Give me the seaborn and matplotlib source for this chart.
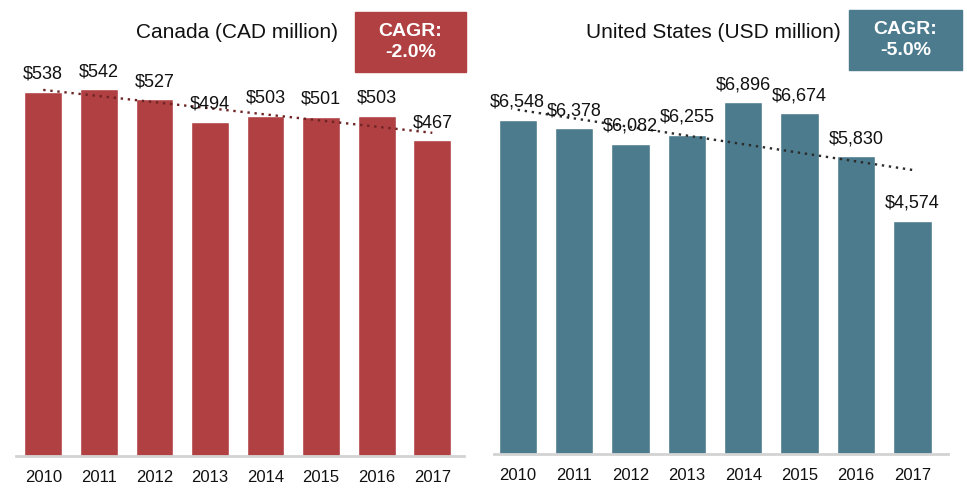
import numpy as np
import pandas as pd
import seaborn as sns
import matplotlib.pyplot as plt
from matplotlib.patches import Rectangle

# values
years = ["2010", "2011", "2012", "2013", "2014", "2015", "2016", "2017"]
canada = [538, 542, 527, 494, 503, 501, 503, 467]
us = [6548, 6378, 6082, 6255, 6896, 6674, 5830, 4574]
canada_cagr = "CAGR:\n-2.0%"
us_cagr = "CAGR:\n-5.0%"

RED = "#B04042"
TEAL = "#4B7B8D"

sns.set_style("white")
plt.rcParams["font.family"] = ["Liberation Sans", "DejaVu Sans"]

fig = plt.figure(figsize=(9.67, 5.01), dpi=100)
W, H = 967, 501


def px_axes(x0, x1, ybase, ytop):
    return fig.add_axes([x0 / W, 1 - ybase / H, (x1 - x0) / W, (ybase - ytop) / H])


def panel(ax, vals, color, trend_color, fmt, ymax, xlim):
    df = pd.DataFrame({"Year": years, "Value": vals})
    sns.barplot(data=df, x="Year", y="Value", color=color, width=0.68,
                saturation=1, ax=ax)
    # linear trend through the bar centres
    sns.regplot(x=np.arange(len(vals)), y=np.array(vals, dtype=float), ax=ax,
                scatter=False, ci=None, truncate=True,
                line_kws=dict(color=trend_color, ls=(0, (1, 2)), lw=1.7))
    for i, v in enumerate(vals):
        ax.annotate(fmt(v), (i, v), xytext=(0, 6.5), textcoords="offset points",
                    ha="center", va="bottom", fontsize=13, color="#111111")
    ax.set_ylim(0, ymax)
    ax.set_xlim(*xlim)
    ax.set_xlabel("")
    ax.set_ylabel("")
    ax.set_yticks([])
    ax.tick_params(axis="x", length=0, pad=10, labelsize=12, labelcolor="#111111")
    for lab in ax.get_xticklabels():
        lab.set_family(["Liberation Sans Narrow", "Liberation Sans", "DejaVu Sans"])
    for s in ["top", "right", "left"]:
        ax.spines[s].set_visible(False)
    ax.spines["bottom"].set_color("#D3D3D3")
    ax.spines["bottom"].set_linewidth(2)
    ax.patch.set_alpha(0)


ax1 = px_axes(16, 464, 456, 60)
panel(ax1, canada, RED, "#6E2424", lambda v: f"${v:,}", 396 / 0.6766, (-0.49, 7.57))

ax2 = px_axes(494, 948, 454, 60)
panel(ax2, us, TEAL, "#2B2B2B", lambda v: f"${v:,}", 394 / 0.05104, (-0.42, 7.63))

# titles
fig.text(237 / W, 1 - 33 / H, "Canada (CAD million)", ha="center", va="center",
         fontsize=15, color="#111111")
fig.text(713 / W, 1 - 33 / H, "United States (USD million)", ha="center", va="center",
         fontsize=15, color="#111111")

# CAGR boxes
for (x0, y0, x1, y1), color, txt in [((355, 12, 466, 72), RED, canada_cagr),
                                      ((849, 10, 962, 70), TEAL, us_cagr)]:
    fig.patches.append(Rectangle((x0 / W, 1 - y1 / H), (x1 - x0) / W, (y1 - y0) / H,
                                 transform=fig.transFigure, color=color, zorder=0))
    fig.text((x0 + x1) / 2 / W, 1 - (y0 + y1) / 2 / H, txt, ha="center", va="center",
             fontsize=14, fontweight="bold", color="white", linespacing=1.25)

fig.savefig("out.png", dpi=100)
